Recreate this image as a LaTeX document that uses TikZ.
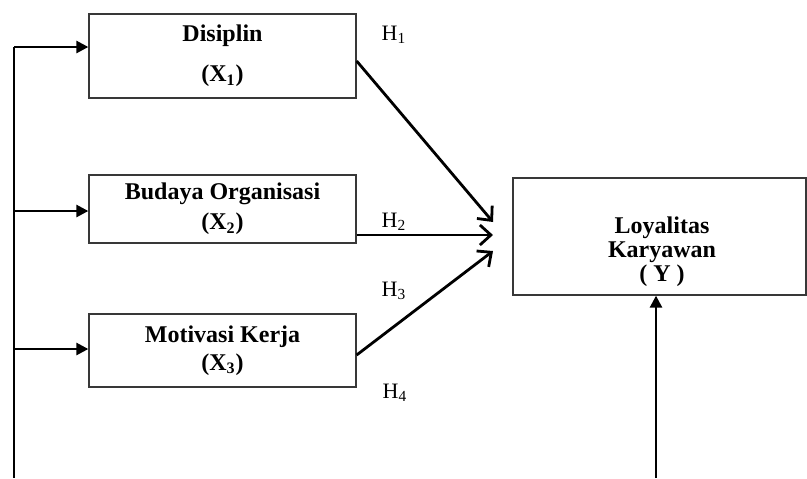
\documentclass[tikz,border=0pt]{standalone}
\usepackage{fontspec}
\setmainfont{Liberation Serif}
\usetikzlibrary{arrows.meta}
\begin{document}
\begin{tikzpicture}[x=0.5pt,y=-0.5pt,
  boxnode/.style={draw=black!78, line width=0.65pt, rectangle, inner sep=0pt, align=center,
    font=\fontsize{12}{11.6}\selectfont\bfseries},
  boxtext/.style={inner sep=0pt, align=center, font=\fontsize{12}{11.6}\selectfont\bfseries},
  hlabel/.style={inner sep=0pt, font=\fontsize{11}{13}\selectfont},
  feed/.style={line width=1.3pt, -{Triangle[length=6pt,width=6pt]}},
  hyp/.style={line width=1.4pt, -{Straight Barb[length=5.5pt,width=10pt]}},
  trunk/.style={line width=0.9pt}
]
\useasboundingbox (0,0) rectangle (807,478);

% boxes
\node[boxnode, minimum width=133.5pt, minimum height=42pt] (dis) at (222.5,56)
  {Disiplin\\[8.5pt](X\textsubscript{1})};
\node[boxnode, minimum width=133.5pt, minimum height=34pt] (bud) at (222.5,209)
  {Budaya Organisasi\\[3.5pt](X\textsubscript{2})};
\node[boxnode, minimum width=133.5pt, minimum height=36.5pt] (mot) at (222.5,350.5)
  {Motivasi Kerja\\[2.5pt](X\textsubscript{3})};
\node[boxnode, minimum width=146.5pt, minimum height=58.5pt] (loy) at (659.5,236.5) {};
\node[boxtext] (loytext) at (662,252) {Loyalitas\\[0.3pt]Karyawan\\[0.3pt]( Y )};

% left trunk and feeding arrows
\coordinate (ltop) at (14,47);
\coordinate (lbot) at (14,478);
\coordinate (l2) at (14,211);
\coordinate (l3) at (14,349);
\draw[trunk] (ltop) -- (lbot);
\draw[feed] (ltop) -- (ltop -| dis.west);
\draw[feed] (l2) -- (l2 -| bud.west);
\draw[feed] (l3) -- (l3 -| mot.west);

% hypothesis arrows
\coordinate (h1s) at (356,61);
\coordinate (h1e) at (493,222);
\coordinate (h2s) at (356,235);
\coordinate (h2e) at (493,235);
\coordinate (h3s) at (356,355);
\coordinate (h3e) at (493,251);
\draw[hyp] (h1s -| dis.east) -- (h1e);
\draw[hyp] (h2s -| bud.east) -- (h2e);
\draw[hyp] (h3s -| mot.east) -- (h3e);

% bottom arrow into Y
\coordinate (bot) at (656,478);
\draw[feed] (bot) -- (bot |- loy.south);

% labels
\node[hlabel] (H1) at (394,35) {H\textsubscript{1}};
\node[hlabel] (H2) at (394,222) {H\textsubscript{2}};
\node[hlabel] (H3) at (394,291) {H\textsubscript{3}};
\node[hlabel] (H4) at (395,393) {H\textsubscript{4}};
\end{tikzpicture}
\end{document}
